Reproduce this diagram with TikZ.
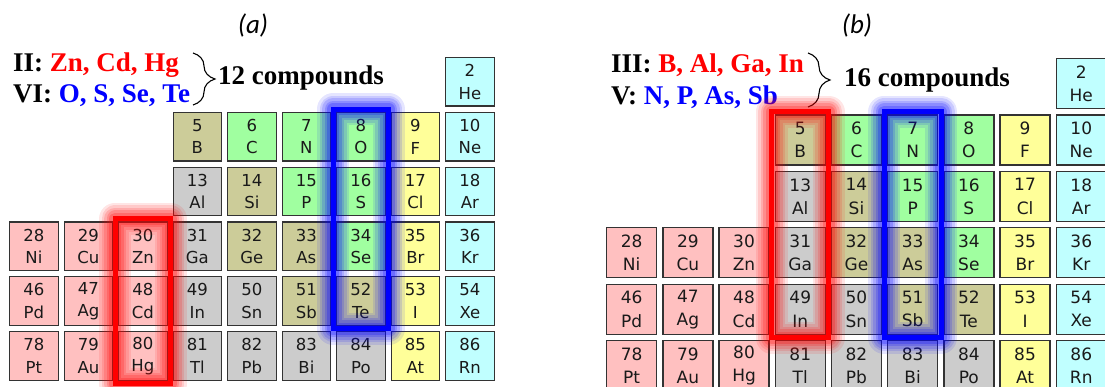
\documentclass[tikz,border=0pt]{standalone}
\usepackage{fontspec}
\setmainfont{Liberation Serif}
\newfontfamily\cellfont{DejaVu Sans}
\newfontfamily\capfont{Carlito}
\usetikzlibrary{decorations.pathreplacing,fit}
\definecolor{cPink}{HTML}{FFC0C0}
\definecolor{cGrey}{HTML}{CCCCCC}
\definecolor{cOlive}{HTML}{CCCC99}
\definecolor{cGreen}{HTML}{A0FFA0}
\definecolor{cYellow}{HTML}{FFFF99}
\definecolor{cCyan}{HTML}{C0FFFF}
\definecolor{cBorder}{HTML}{333333}
\definecolor{cText}{HTML}{1A1A1A}
\definecolor{hlRed}{HTML}{FF0000}
\definecolor{hlBlue}{HTML}{0000FF}
\tikzset{
  elem/.style={draw=cBorder, line width=1.3pt, fill=#1, anchor=north west,
    inner sep=0pt, align=center, text=cText},
  lab/.style={font=\bfseries\fontsize{27}{32}\selectfont, inner sep=0pt, anchor=base west},
  captext/.style={font=\capfont\itshape\fontsize{27}{30}\selectfont, inner sep=0pt},
  bracestyle/.style={decorate, decoration={brace, amplitude=22pt}, line width=1.1pt},
  hlbox/.style={inner sep=2.5pt},
}
% #1 prefix, #2 x0, #3 y0, #4 pitch x, #5 pitch y, #6 size, #7 font size, #8 baselineskip
\newcommand\ptable[8]{%
  \foreach \en/\es/\ec/\ei/\ej in {
    2/He/cCyan/8/0,
    5/B/cOlive/3/1, 6/C/cGreen/4/1, 7/N/cGreen/5/1, 8/O/cGreen/6/1, 9/F/cYellow/7/1, 10/Ne/cCyan/8/1,
    13/Al/cGrey/3/2, 14/Si/cOlive/4/2, 15/P/cGreen/5/2, 16/S/cGreen/6/2, 17/Cl/cYellow/7/2, 18/Ar/cCyan/8/2,
    28/Ni/cPink/0/3, 29/Cu/cPink/1/3, 30/Zn/cPink/2/3, 31/Ga/cGrey/3/3, 32/Ge/cOlive/4/3, 33/As/cOlive/5/3, 34/Se/cGreen/6/3, 35/Br/cYellow/7/3, 36/Kr/cCyan/8/3,
    46/Pd/cPink/0/4, 47/Ag/cPink/1/4, 48/Cd/cPink/2/4, 49/In/cGrey/3/4, 50/Sn/cGrey/4/4, 51/Sb/cOlive/5/4, 52/Te/cOlive/6/4, 53/I/cYellow/7/4, 54/Xe/cCyan/8/4,
    78/Pt/cPink/0/5, 79/Au/cPink/1/5, 80/Hg/cPink/2/5, 81/Tl/cGrey/3/5, 82/Pb/cGrey/4/5, 83/Bi/cGrey/5/5, 84/Po/cGrey/6/5, 85/At/cYellow/7/5, 86/Rn/cCyan/8/5}{
    \node[elem=\ec, minimum width=#6pt, minimum height=#6pt,
      font={\cellfont\fontsize{#7}{#8}\selectfont}]
      (#1\en) at ({#2+#4*\ei},{#3+#5*\ej}) {\en\\\es};
  }}
% #1 colour, #2 fitted node
\newcommand\glowbox[2]{%
  \foreach \gw/\go in {32/0.10,27/0.12,22/0.15,17/0.18,12/0.22}{
    \draw[#1, line width=\gw pt, opacity=\go, line join=round]
      (#2.north west) rectangle (#2.south east);
  }
  \draw[#1, line width=5pt] (#2.north west) rectangle (#2.south east);}
\begin{document}
\begin{tikzpicture}[x=1pt, y=-1pt]
\useasboundingbox (0,0) rectangle (1105,387);
\fill[white] (0,0) rectangle (1105,387);
% ---------- panel (a)
\ptable{a}{9}{57}{54.5}{54.8}{48.5}{16.5}{22.5}
\node[captext] (capA) at (253,26) {(a)};
\node[lab] (aII) at (13,72) {II: \textcolor{hlRed}{Zn, Cd, Hg}};
\node[lab] (aVI) at (13,103) {VI: \textcolor{hlBlue}{O, S, Se, Te}};
\coordinate (aBraceTop) at (193,53);
\coordinate (aBraceBot) at (193,105);
\draw[bracestyle] (aBraceTop) -- (aBraceBot);
\node[lab] (aCount) at (218,85) {12 compounds};
\node[hlbox, fit=(a30)(a80)] (aRed) {};
\node[hlbox, fit=(a8)(a52)] (aBlue) {};
\glowbox{hlRed}{aRed}
\glowbox{hlBlue}{aBlue}
% ---------- panel (b)
\ptable{b}{606}{58}{56.2}{56.4}{50}{17}{23.2}
\node[captext] (capB) at (857,26) {(b)};
\node[lab] (bIII) at (611,73) {III: \textcolor{hlRed}{B, Al, Ga, In}};
\node[lab] (bV) at (611,105) {V: \textcolor{hlBlue}{N, P, As, Sb}};
\coordinate (bBraceTop) at (808,53);
\coordinate (bBraceBot) at (808,107);
\draw[bracestyle] (bBraceTop) -- (bBraceBot);
\node[lab] (bCount) at (844,87) {16 compounds};
\node[hlbox, fit=(b5)(b49)] (bRed) {};
\node[hlbox, fit=(b7)(b51)] (bBlue) {};
\glowbox{hlRed}{bRed}
\glowbox{hlBlue}{bBlue}
\end{tikzpicture}
\end{document}
